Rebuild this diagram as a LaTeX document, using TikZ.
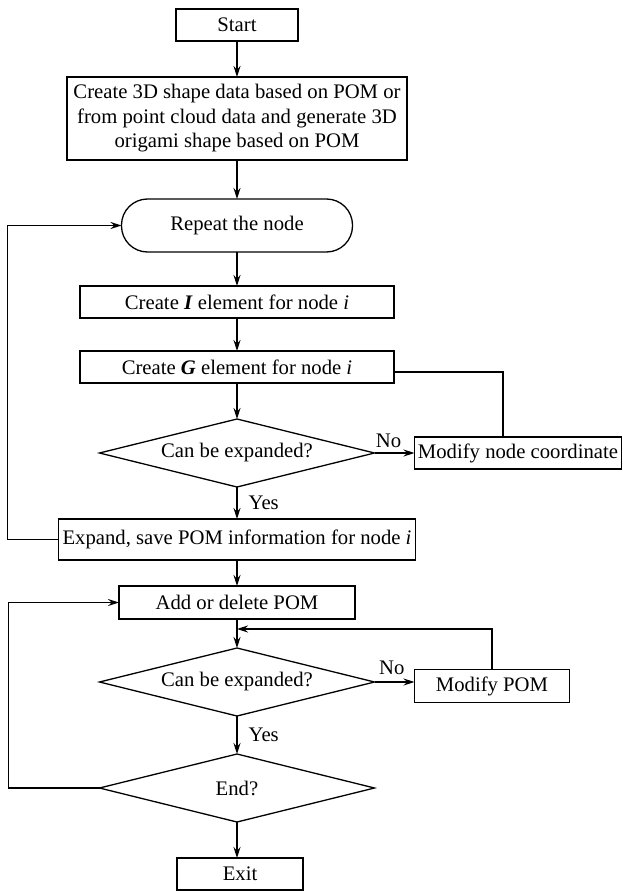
\documentclass[tikz,border=0pt]{standalone}
\usepackage{fontspec}
\setmainfont{Liberation Serif}
\usetikzlibrary{shapes,arrows.meta,positioning,calc}

\begin{document}
\begin{tikzpicture}[
    x=1pt, y=-1pt,
    font=\fontsize{20.7}{24.5}\selectfont,
    line width=1.3pt,
    box/.style={rectangle, draw, minimum height=32pt, align=center, inner sep=3pt, outer sep=0pt},
    terminal/.style={rectangle, draw, rounded corners=26pt, minimum width=231pt, minimum height=53pt, outer sep=0pt},
    decision/.style={diamond, draw, aspect=4, minimum width=275pt, minimum height=68pt, inner sep=1pt, outer sep=0pt},
    arrow/.style={->, >={Stealth[length=11pt,width=7pt]}},
    lbl/.style={inner sep=1pt}
]
\useasboundingbox (0,0) rectangle (623,891);

% Setup
\node[box, minimum width=122pt] (start) at (237,25) {Start};
\node[box, minimum width=340pt, minimum height=83pt, below=36pt of start] (shape) {Create 3D shape data based on POM or\\from point cloud data and generate 3D\\origami shape based on POM};

% Node loop
\node[terminal, below=39pt of shape] (repeat) {Repeat the node};
\node[box, minimum width=314pt, below=34pt of repeat] (elemI) {Create \textbf{\textit{I}} element for node \textit{i}};
\node[box, minimum width=314pt, below=33pt of elemI] (elemG) {Create \textbf{\textit{G}} element for node \textit{i}};
\node[decision, below=36pt of elemG] (expcheck) {Can be expanded?};
\node[box, minimum width=207pt, inner xsep=2pt, right=40pt of expcheck] (modnode) {Modify node coordinate};
\node[box, minimum width=357pt, minimum height=41pt, below=32pt of expcheck] (expand) {Expand, save POM information for node \textit{i}};

% POM loop
\node[box, minimum width=236pt, minimum height=33pt, below=26pt of expand] (addpom) {Add or delete POM};
\node[decision, below=29pt of addpom] (pomcheck) {Can be expanded?};
\node[box, minimum width=155pt, minimum height=33pt, right=40pt of pomcheck, yshift=-4pt] (modpom) {Modify POM};
\node[decision, below=38pt of pomcheck] (endcheck) {End?};
\node[box, minimum width=126pt, below=36pt of endcheck, xshift=3pt] (exit) {Exit};

% Arrows
\draw[arrow] (start) -- (shape);
\draw[arrow] (shape) -- (repeat);
\draw[arrow] (repeat) -- (elemI);
\draw[arrow] (elemI) -- (elemG);
\draw[arrow] (elemG) -- (expcheck);
\draw[arrow] (expcheck) -- node[lbl, above=4pt, pos=0.35] {No} (modnode);
\draw ([yshift=-5pt]elemG.east) -| ([xshift=-15pt]modnode.north);
\draw[arrow] (expcheck) -- node[lbl, right=10pt] {Yes} (expand);
\draw[arrow] (expand.west) -- ++(-51,0) |- (repeat.west);
\draw[arrow] (expand) -- (addpom);
\draw[arrow] (addpom) -- (pomcheck);
\draw[arrow] (pomcheck.east) -- node[lbl, above=6pt, pos=0.43] {No} (pomcheck.east -| modpom.west);
\draw[arrow] (modpom.north) |- ([yshift=-10pt]addpom.south);
\draw[arrow] (pomcheck) -- node[lbl, right=10pt] {Yes} (endcheck);
\draw[arrow] (endcheck.west) -- ++(-91,0) |- (addpom.west);
\draw[arrow] (endcheck.south) -- (endcheck.south |- exit.north);

\end{tikzpicture}
\end{document}
